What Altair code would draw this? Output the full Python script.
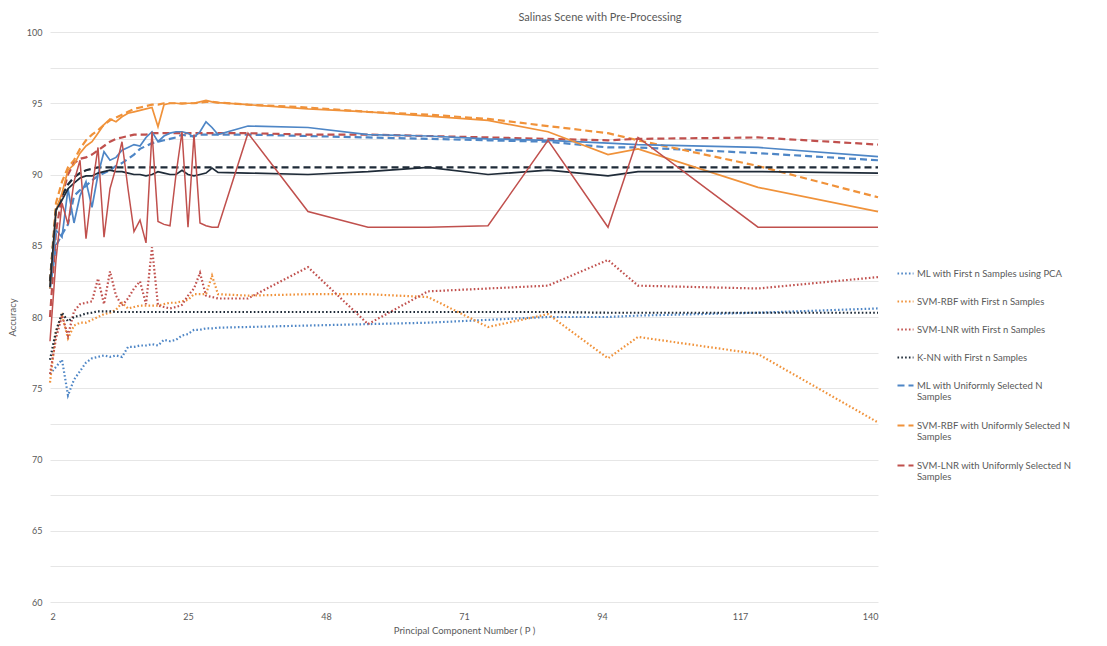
import altair as alt
import pandas as pd

# Principal component numbers at which the curves were sampled
P = list(range(2, 31)) + [35, 45, 55, 65, 75, 85, 95, 100, 120, 140]

# ---- series shown in the legend ----
ml_first = [76.0, 76.5, 77.0, 74.5, 75.6, 76.2, 76.8, 77.1, 77.2, 77.3, 77.2, 77.3, 77.2, 77.9, 77.9,
            78.0, 78.0, 78.1, 78.0, 78.4, 78.3, 78.4, 78.7, 78.8, 79.1, 79.1, 79.2, 79.2, 79.25,
            79.3, 79.4, 79.5, 79.6, 79.8, 80.0, 80.0, 80.1, 80.3, 80.6]
rbf_first = [75.4, 79.0, 80.1, 78.5, 79.4, 79.6, 79.6, 79.8, 80.0, 80.2, 80.3, 80.5, 81.0, 80.6, 80.7,
             80.8, 80.8, 80.8, 80.8, 80.9, 81.0, 81.0, 81.1, 81.2, 81.6, 81.6, 81.6, 82.9, 81.6,
             81.5, 81.6, 81.6, 81.4, 79.3, 80.2, 77.1, 78.6, 77.4, 72.6]
lnr_first = [76.0, 78.5, 80.1, 78.7, 80.4, 80.9, 81.0, 81.1, 82.7, 80.9, 83.2, 81.5, 80.8, 81.3, 82.0,
             82.5, 80.9, 84.9, 80.8, 80.7, 80.6, 80.7, 80.85, 81.5, 82.0, 83.1, 81.5, 81.4, 81.3,
             81.3, 83.5, 79.5, 81.8, 82.0, 82.2, 84.0, 82.2, 82.0, 82.8]
knn_first = [77.0, 79.0, 80.3, 79.7, 80.0, 80.1, 80.25, 80.3, 80.4, 80.4, 80.4, 80.35, 80.35, 80.35, 80.35,
             80.35, 80.35, 80.35, 80.35, 80.35, 80.35, 80.35, 80.35, 80.35, 80.35, 80.35, 80.35, 80.35, 80.35,
             80.35, 80.35, 80.35, 80.35, 80.35, 80.35, 80.3, 80.3, 80.3, 80.3]
ml_uni = [82.0, 85.0, 85.8, 86.5, 88.5, 88.9, 89.2, 89.6, 89.9, 90.1, 90.3, 90.6, 90.8, 91.1, 91.4,
          91.8, 92.0, 92.2, 92.3, 92.4, 92.5, 92.6, 92.8, 92.7, 92.7, 92.8, 92.8, 92.8, 92.8,
          92.8, 92.7, 92.6, 92.5, 92.4, 92.3, 91.9, 91.9, 91.5, 91.0]
rbf_uni = [82.5, 88.0, 89.5, 90.5, 91.0, 91.8, 92.4, 92.8, 93.1, 93.5, 93.8, 94.0, 94.2, 94.4, 94.6,
           94.7, 94.8, 94.9, 94.9, 95.0, 95.0, 95.0, 95.0, 95.0, 95.0, 95.05, 95.1, 95.1, 95.05,
           94.9, 94.7, 94.4, 94.2, 93.9, 93.4, 92.9, 92.4, 90.6, 88.4]
lnr_uni = [80.0, 86.0, 88.5, 90.0, 90.8, 91.1, 91.2, 91.4, 91.7, 92.0, 92.3, 92.5, 92.6, 92.7, 92.8,
           92.8, 92.8, 92.9, 92.9, 92.9, 92.9, 92.9, 92.9, 92.9, 92.9, 92.9, 92.9, 92.9, 92.9,
           92.9, 92.8, 92.8, 92.7, 92.6, 92.5, 92.4, 92.5, 92.6, 92.1]

# ---- series without a legend entry ----
knn_uni = [82.5, 87.5, 88.5, 89.3, 89.8, 90.1, 90.3, 90.4, 90.5, 90.5, 90.5, 90.5, 90.5, 90.5, 90.5,
           90.5, 90.5, 90.5, 90.5, 90.5, 90.5, 90.5, 90.5, 90.5, 90.5, 90.5, 90.5, 90.5, 90.5,
           90.5, 90.5, 90.5, 90.5, 90.5, 90.5, 90.5, 90.5, 90.5, 90.5]
ml_pre = [82.0, 86.1, 85.6, 89.0, 86.6, 88.5, 89.5, 87.7, 90.0, 91.6, 91.0, 91.2, 91.7, 91.9, 92.1,
          92.0, 92.6, 93.0, 92.3, 92.7, 92.9, 93.0, 93.0, 92.9, 92.6, 93.0, 93.7, 93.3, 92.8,
          93.4, 93.3, 92.8, 92.7, 92.5, 92.4, 92.2, 92.1, 91.9, 91.25]
rbf_pre = [82.0, 87.5, 88.7, 90.3, 90.7, 91.5, 92.0, 92.3, 92.9, 93.5, 93.9, 93.7, 94.05, 94.3, 94.4,
           94.5, 94.6, 94.7, 93.35, 94.9, 95.0, 95.0, 94.95, 95.0, 95.0, 95.1, 95.2, 95.1, 95.05,
           94.9, 94.6, 94.4, 94.1, 93.8, 93.0, 91.4, 91.8, 89.1, 87.4]
lnr_pre = [78.3, 84.0, 88.0, 86.5, 89.5, 91.0, 85.5, 89.0, 91.9, 85.6, 89.0, 90.5, 92.3, 89.0, 86.0,
           86.8, 85.2, 93.0, 86.7, 86.5, 86.4, 90.0, 93.0, 86.3, 92.8, 86.6, 86.4, 86.3, 86.3,
           92.9, 87.4, 86.3, 86.3, 86.4, 92.4, 86.3, 92.6, 86.3, 86.3]
knn_pre = [82.1, 87.5, 88.2, 89.0, 89.4, 89.75, 89.9, 89.9, 90.1, 90.2, 90.3, 90.2, 90.2, 90.1, 90.0,
           90.0, 89.9, 90.0, 90.2, 90.1, 90.0, 90.0, 90.3, 90.0, 89.9, 90.0, 90.1, 90.45, 90.15,
           90.1, 90.0, 90.2, 90.5, 90.0, 90.3, 89.9, 90.2, 90.2, 90.1]

BLUE, ORANGE, RED, DARK = "#4E86C6", "#F0923A", "#C0504D", "#1F2B38"
DOT, DASH = [1.6, 2.2], [7, 4]

legend_series = [
    ("ML with First n Samples using PCA", ml_first, BLUE, DOT),
    ("SVM-RBF with First n Samples", rbf_first, ORANGE, DOT),
    ("SVM-LNR with First n Samples", lnr_first, RED, DOT),
    ("K-NN with First n Samples", knn_first, DARK, DOT),
    ("ML with Uniformly Selected N Samples", ml_uni, BLUE, DASH),
    ("SVM-RBF  with Uniformly Selected N Samples", rbf_uni, ORANGE, DASH),
    ("SVM-LNR  with Uniformly Selected N Samples", lnr_uni, RED, DASH),
]
other_series = [
    ("K-NN Uniform", knn_uni, DARK, DASH, 2.2),
    ("ML Pre", ml_pre, BLUE, None, 1.7),
    ("SVM-RBF Pre", rbf_pre, ORANGE, None, 1.7),
    ("K-NN Pre", knn_pre, DARK, None, 1.7),
    ("SVM-LNR Pre", lnr_pre, RED, None, 1.5),
]

rows = []
for name, vals, _, _ in legend_series:
    for p, v in zip(P, vals):
        rows.append({"P": p, "Accuracy": v, "series": name})
df_leg = pd.DataFrame(rows)

x_enc = alt.X("P:Q", scale=alt.Scale(domain=[2, 140], nice=False, zero=False),
              axis=alt.Axis(values=[2, 25, 48, 71, 94, 117, 140], grid=False, domain=False, ticks=False,
                            labelPadding=10, title="Principal Component Number ( P )", titlePadding=4))
y_enc = alt.Y("Accuracy:Q", scale=alt.Scale(domain=[60, 100], nice=False, zero=False),
              axis=alt.Axis(values=[60 + 2.5 * i for i in range(17)], grid=True, domain=False, ticks=False,
                            labelExpr="datum.value % 5 == 0 ? datum.label : ''",
                            labelPadding=8, title="Accuracy", titlePadding=9))

names = [s[0] for s in legend_series]
legend_layer = alt.Chart(df_leg).mark_line(strokeWidth=2.2, strokeCap="butt").encode(
    x=x_enc,
    y=y_enc,
    color=alt.Color("series:N", scale=alt.Scale(domain=names, range=[s[2] for s in legend_series]),
                    legend=alt.Legend(
                        title=None, orient="none", legendX=846, legendY=232,
                        symbolType="stroke", symbolSize=256, symbolStrokeWidth=2.2,
                        labelFont="Lato", labelFontSize=9.5, labelColor="#595959",
                        labelLimit=300, rowPadding=14, labelOffset=2,
                        labelExpr="indexof(datum.label, 'Uniformly') >= 0 ? [replace(datum.label, ' Samples', ''), 'Samples'] : datum.label",
                    )),
    strokeDash=alt.StrokeDash("series:N", scale=alt.Scale(domain=names, range=[s[3] for s in legend_series])),
    order=alt.Order("P:Q"),
    detail="series:N",
)

layers = [legend_layer]
for name, vals, col, dash, sw in other_series:
    d = pd.DataFrame({"P": P, "Accuracy": vals})
    kwargs = dict(color=col, strokeWidth=sw)
    if dash is not None:
        kwargs["strokeDash"] = dash
    layers.append(alt.Chart(d).mark_line(**kwargs).encode(x=x_enc, y=y_enc))

chart = alt.layer(*layers).properties(
    width=828, height=570,
    padding={"left": 42, "top": 24, "right": 221, "bottom": 36},
    autosize=alt.AutoSizeParams(type="none"),
    title=alt.TitleParams("Salinas Scene with Pre-Processing", font="Lato", fontSize=11,
                          fontWeight="normal", color="#595959", dx=136, offset=5),
).configure_view(stroke=None).configure_axis(
    labelFont="Lato", labelFontSize=9, labelColor="#595959",
    titleFont="Lato", titleFontSize=9.5, titleColor="#595959", titleFontWeight="normal",
    gridColor="#e6e6e6", gridWidth=1,
)

chart.save("out.html", embed_options={"renderer": "svg", "actions": False})
